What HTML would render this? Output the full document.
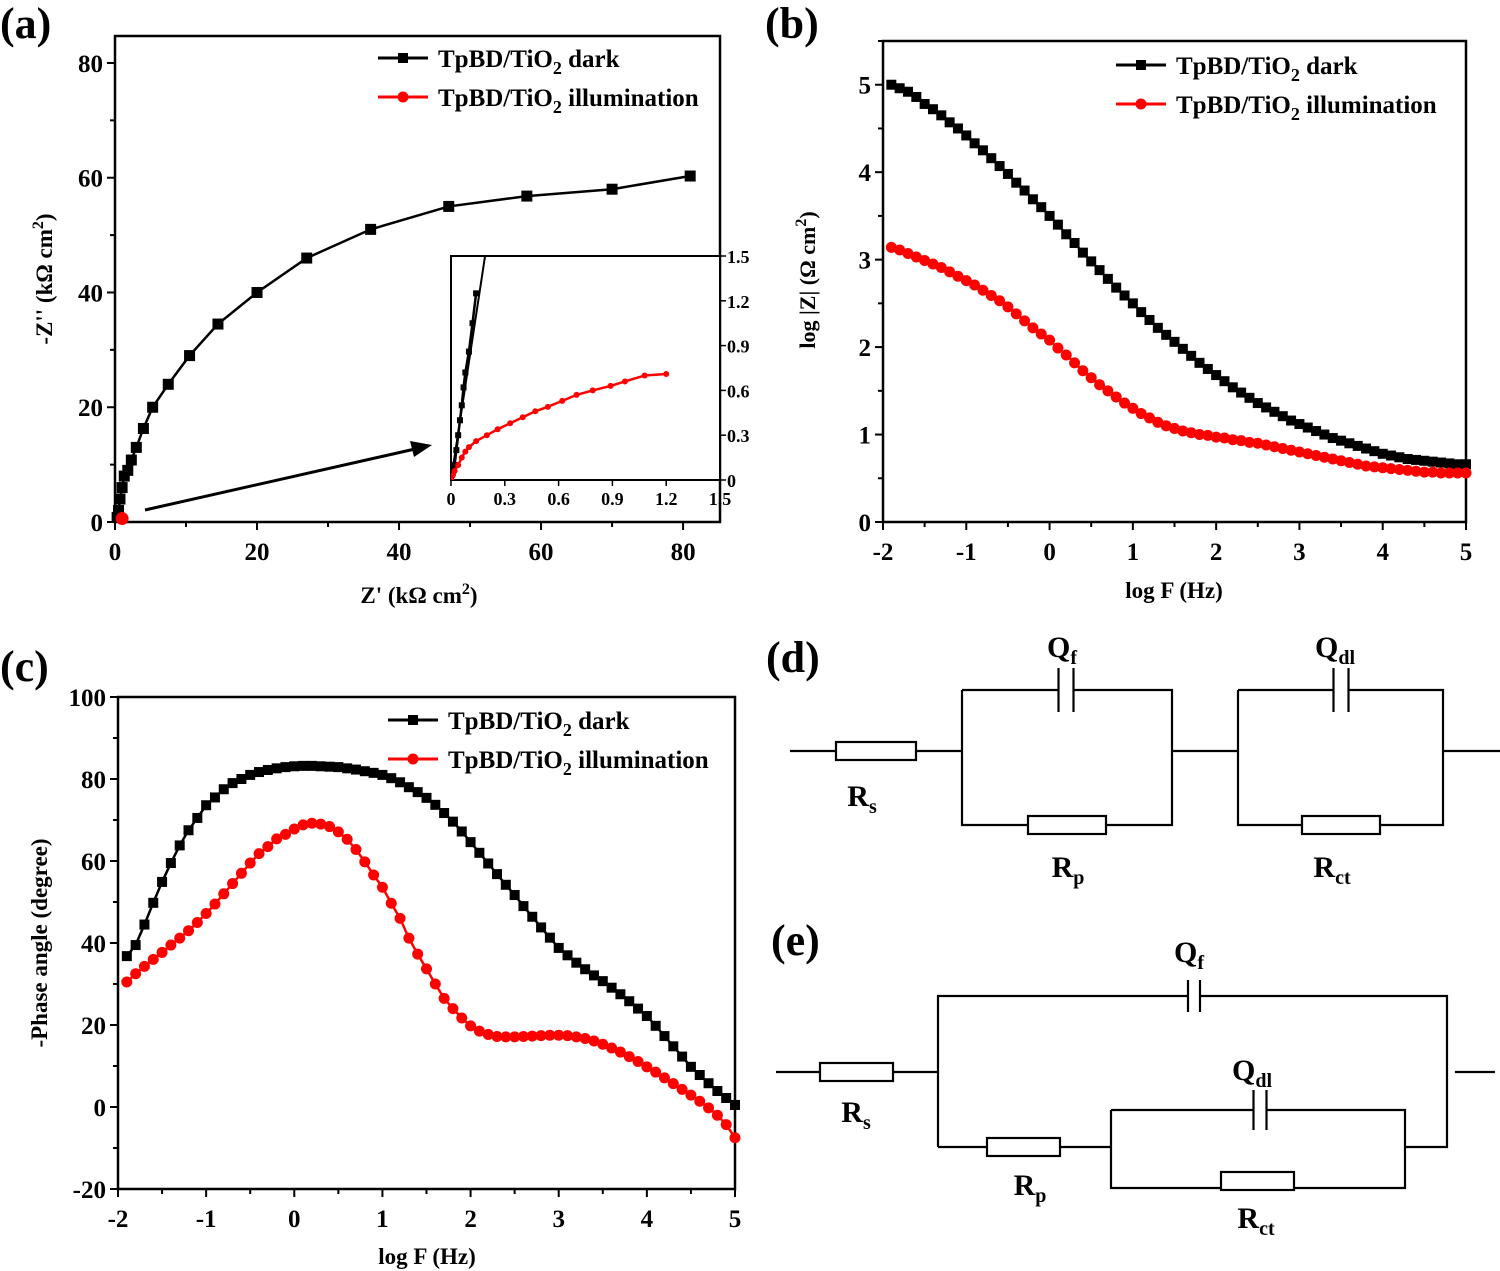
<!DOCTYPE html>
<html><head><meta charset="utf-8"><style>
html,body{margin:0;padding:0;background:#fff}
svg{display:block}
text{font-family:"Liberation Serif",serif;font-weight:bold;fill:#000}
</style></head><body>
<svg id="fig" width="1500" height="1271" viewBox="0 0 1500 1271" xmlns="http://www.w3.org/2000/svg"></svg>
<script>
// ---- panel (a) Nyquist ----
const aDarkX=[0.3,0.5,0.7,1,1.3,1.8,2.3,3,4,5.3,7.5,10.5,14.5,20,27,36,47,58,70,81];
const aDarkY=[0.8,2,4,6,8,9,10.8,13,16.3,20,24,29,34.5,40,46,51,55,56.8,58,60.3];
const aRedX=[1.0];
const aRedY=[0.6];
const aTicks=[0,20,40,60,80];
const insDarkX=[0.01,0.02,0.03,0.04,0.05,0.06,0.07,0.08,0.1,0.12,0.14];
const insDarkY=[0.05,0.1,0.2,0.3,0.4,0.5,0.62,0.72,0.86,1.05,1.25];
const insRedX=[0.01,0.02,0.04,0.06,0.08,0.1,0.14,0.2,0.26,0.33,0.4,0.47,0.54,0.62,0.7,0.79,0.89,0.97,1.08,1.2];
const insRedY=[0.03,0.06,0.1,0.15,0.19,0.22,0.26,0.3,0.34,0.38,0.42,0.46,0.49,0.53,0.57,0.6,0.63,0.66,0.7,0.71];
const insTicks=[0,0.3,0.6,0.9,1.2,1.5];
// ---- panel (b) Bode |Z| ----
const freqX=[-1.9,-1.8,-1.7,-1.6,-1.5,-1.4,-1.3,-1.2,-1.1,-1.0,-0.9,-0.8,-0.7,-0.6,-0.5,-0.4,-0.3,-0.2,-0.1,0,0.1,0.2,0.3,0.4,0.5,0.6,0.7,0.8,0.9,1.0,1.1,1.2,1.3,1.4,1.5,1.6,1.7,1.8,1.9,2.0,2.1,2.2,2.3,2.4,2.5,2.6,2.7,2.8,2.9,3.0,3.1,3.2,3.3,3.4,3.5,3.6,3.7,3.8,3.9,4.0,4.1,4.2,4.3,4.4,4.5,4.6,4.7,4.8,4.9,5.0];
const bDark=[5.00,4.96,4.92,4.86,4.78,4.72,4.65,4.57,4.50,4.42,4.33,4.25,4.16,4.07,3.98,3.88,3.79,3.69,3.60,3.50,3.40,3.29,3.19,3.08,2.98,2.88,2.78,2.68,2.59,2.50,2.40,2.31,2.22,2.14,2.06,1.98,1.90,1.82,1.75,1.68,1.61,1.54,1.48,1.42,1.36,1.31,1.26,1.21,1.16,1.12,1.08,1.04,1.00,0.96,0.93,0.90,0.87,0.84,0.81,0.78,0.76,0.74,0.72,0.71,0.70,0.69,0.68,0.67,0.66,0.66];
const bRed=[3.14,3.11,3.07,3.03,2.99,2.95,2.91,2.86,2.81,2.76,2.71,2.65,2.59,2.53,2.46,2.38,2.30,2.22,2.15,2.08,1.99,1.91,1.82,1.73,1.65,1.57,1.50,1.43,1.36,1.30,1.24,1.19,1.14,1.10,1.07,1.04,1.02,1.00,0.99,0.97,0.96,0.94,0.93,0.91,0.90,0.88,0.86,0.84,0.82,0.80,0.78,0.76,0.74,0.72,0.70,0.68,0.66,0.64,0.63,0.62,0.61,0.60,0.59,0.58,0.57,0.57,0.56,0.56,0.56,0.56];
const freqTicks=[-2,-1,0,1,2,3,4,5];
const bYTicks=[0,1,2,3,4,5];
// ---- panel (c) phase ----
const cDark=[36.8,39.5,44.5,49.8,54.9,59.5,63.8,67.5,70.5,73.6,75.5,77.5,79,80,81,81.7,82.2,82.6,82.9,83.1,83.2,83.2,83.1,83.0,82.9,82.6,82.3,81.9,81.5,81,80.2,79.2,78,76.8,75.4,73.7,71.7,69.6,67.2,64.6,62,59.4,56.8,54.2,51.7,49,46.4,43.8,41.3,38.8,37,35.2,33.6,32.1,30.7,29.1,27.5,25.8,24,22.2,19.8,17.3,14.8,12.3,9.8,7.8,5.8,3.9,2.2,0.5];
const cRed=[30.5,32.5,34.3,36,37.7,39.5,41.2,43,45,47.2,49.5,52,54.5,57,59.5,61.8,63.5,65.4,66.5,67.8,68.8,69.2,69,68.4,67.1,65.3,62.8,59.8,56.6,53.6,49.7,46,41.2,37.3,33.7,30,26.5,24,21.7,19.8,18.5,17.7,17.2,17.1,17.1,17.2,17.3,17.4,17.5,17.5,17.4,17.1,16.7,16.1,15.3,14.4,13.4,12.3,11.1,9.8,8.5,7.1,5.7,4.3,2.9,1.4,-0.2,-2,-4.3,-7.5];
const cYTicks=[-20,0,20,40,60,80,100];

const NS="http://www.w3.org/2000/svg";
const svg=document.getElementById('fig');
function mk(tag,attrs,parent){const e=document.createElementNS(NS,tag);for(const k in attrs)e.setAttribute(k,attrs[k]);(parent||svg).appendChild(e);return e;}
function txt(x,y,s,size,anchor,parent){const t=mk('text',{x:x,y:y,'font-size':size,'text-anchor':anchor||'middle'},parent);t.textContent=s;return t;}
function lin(d0,d1,r0,r1){return v=>r0+(v-d0)/(d1-d0)*(r1-r0);}

function axes(g,L,R,T,B,sx,sy,xt,yt,xminor,yminor,xfmt,yfmt){
  const box=mk('rect',{x:L,y:T,width:R-L,height:B-T,fill:'none',stroke:'#000','stroke-width':2.5},g);
  
  
  xt.forEach(v=>{const x=sx(v);mk('line',{x1:x,y1:B,x2:x,y2:B+8,stroke:'#000','stroke-width':2},g);
    const t=txt(x,B+38,xfmt(v),25,'middle',g);
    
    });
  xminor.forEach(v=>{const x=sx(v);mk('line',{x1:x,y1:B,x2:x,y2:B+5,stroke:'#000','stroke-width':2},g);});
  yt.forEach(v=>{const y=sy(v);mk('line',{x1:L-8,y1:y,x2:L,y2:y,stroke:'#000','stroke-width':2},g);
    const t=txt(L-12,y+9,yfmt(v),25,'end',g);
    
    });
  yminor.forEach(v=>{const y=sy(v);mk('line',{x1:L-5,y1:y,x2:L,y2:y,stroke:'#000','stroke-width':2},g);});
}
function series(g,xs,ys,sx,sy,color,shape,size,name){
  const sg=mk('g',{},g);
  
  
  mk('polyline',{points:xs.map((x,i)=>sx(x)+','+sy(ys[i])).join(' '),fill:'none',stroke:color,'stroke-width':2.5},sg);
  xs.forEach((x,i)=>{const px=sx(x),py=sy(ys[i]);let m;
    if(shape==='sq')m=mk('rect',{x:px-size/2,y:py-size/2,width:size,height:size,fill:color},sg);
    else m=mk('circle',{cx:px,cy:py,r:size/2,fill:color},sg);
    
    });
}
function legend(g,x,y1,y2){
  const l1=mk('g',{},g);
  
  
  mk('line',{x1:x,y1:y1,x2:x+50,y2:y1,stroke:'#000','stroke-width':3},l1);
  mk('rect',{x:x+20,y:y1-5,width:10,height:10,fill:'#000'},l1);
  const t1=mk('text',{x:x+60,y:y1+9,'font-size':25},l1);
  t1.innerHTML='TpBD/TiO<tspan font-size="18" dy="7">2</tspan><tspan dy="-7"> dark</tspan>';
  const l2=mk('g',{},g);
  
  
  mk('line',{x1:x,y1:y2,x2:x+50,y2:y2,stroke:'#f00','stroke-width':3},l2);
  mk('circle',{cx:x+25,cy:y2,r:5.5,fill:'#f00'},l2);
  const t2=mk('text',{x:x+60,y:y2+9,'font-size':25},l2);
  t2.innerHTML='TpBD/TiO<tspan font-size="18" dy="7">2</tspan><tspan dy="-7"> illumination</tspan>';
}
function panelLabel(x,y,s){const t=txt(x,y,s,44,'start');}
const rng=(a,b,s)=>{const r=[];for(let v=a;v<=b+1e-9;v+=s)r.push(+v.toFixed(3));return r;};

// ===== Panel A =====
const ga=mk('g',{});


const axL=115,axR=720,axT=36,axB=522;
const ax=lin(0,85.2,axL,axR), ay=lin(0,84.7,axB,axT);
axes(ga,axL,axR,axT,axB,ax,ay,aTicks,aTicks,rng(10,70,20),rng(10,70,20),v=>v,v=>v);
series(ga,aDarkX,aDarkY,ax,ay,'#000','sq',11,'a-dark-series');
series(ga,aRedX,aRedY,ax,ay,'#f00','ci',13,'a-illumination-series');
legend(ga,378,58,97);
const ayt=txt(0,0,'',23,'middle',ga);
ayt.setAttribute('transform','translate(52,279) rotate(-90)');
ayt.innerHTML='-Z\'\' (kΩ cm<tspan font-size="16" dy="-9">2</tspan><tspan dy="9">)</tspan>';


const axt=txt(419,603,'',23,'middle',ga);
axt.innerHTML='Z\' (kΩ cm<tspan font-size="16" dy="-9">2</tspan><tspan dy="9">)</tspan>';


// arrow
const arr=mk('g',{},ga);


mk('line',{x1:145,y1:510,x2:415,y2:449,stroke:'#000','stroke-width':3},arr);
mk('polygon',{points:'432,445 410,441 414,457',fill:'#000'},arr);
// inset
const gi=mk('g',{},ga);


const iL=451,iR=720,iT=256,iB=480;
const ix=lin(0,1.5,iL,iR), iy=lin(0,1.5,iB,iT);
mk('rect',{x:iL,y:iT,width:iR-iL,height:iB-iT,fill:'#fff',stroke:'#000','stroke-width':2},gi);
insTicks.forEach(v=>{const x=ix(v);mk('line',{x1:x,y1:iB,x2:x,y2:iB+6,stroke:'#000','stroke-width':1.5},gi);
  const t=txt(x,iB+25,String(v),18,'middle',gi);
  
  
  const y=iy(v);mk('line',{x1:iR,y1:y,x2:iR+6,y2:y,stroke:'#000','stroke-width':1.5},gi);
  const t2=txt(iR+7,y+7,String(v),18,'start',gi);
  
  });
const clipI=mk('clipPath',{id:'clipI'},gi);mk('rect',{x:iL,y:iT,width:iR-iL,height:iB-iT},clipI);
const gic=mk('g',{'clip-path':'url(#clipI)'},gi);
mk('line',{x1:ix(0),y1:iy(0),x2:ix(0.19),y2:iy(1.5),stroke:'#000','stroke-width':2},gic);
series(gic,[0].concat(insDarkX),[0].concat(insDarkY),ix,iy,'#000','sq',6,'inset-dark-series');
series(gic,[0].concat(insRedX),[0].concat(insRedY),ix,iy,'#f00','ci',6,'inset-illumination-series');
panelLabel(0,38,'(a)');

// ===== Panel B =====
const gb=mk('g',{});


const bL=883,bR=1466,bT=41,bB=522;
const bx=lin(-2,5,bL,bR), by=lin(0,5.5,bB,bT);
axes(gb,bL,bR,bT,bB,bx,by,freqTicks,bYTicks,rng(-1.5,4.5,1),rng(0.5,5.5,1),v=>v,v=>v);
series(gb,freqX,bDark,bx,by,'#000','sq',10,'b-dark-series');
series(gb,freqX,bRed,bx,by,'#f00','ci',11,'b-illumination-series');
legend(gb,1116,65,104);
const byt=txt(0,0,'',22,'middle',gb);
byt.setAttribute('transform','translate(815,280) rotate(-90)');
byt.innerHTML='log |Z| (Ω cm<tspan font-size="16" dy="-9">2</tspan><tspan dy="9">)</tspan>';


const bxt=txt(1174,598,'log F (Hz)',23,'middle',gb);


panelLabel(765,38,'(b)');

// ===== Panel C =====
const gc=mk('g',{});


const cL=118,cR=735,cT=697,cB=1189;
const cx=lin(-2,5,cL,cR), cy=lin(-20,100,cB,cT);
axes(gc,cL,cR,cT,cB,cx,cy,freqTicks,cYTicks,rng(-1.5,4.5,1),rng(-10,90,20),v=>v,v=>v);
const clipC=mk('clipPath',{id:'clipC'},gc);mk('rect',{x:cL,y:cT,width:cR-cL+6,height:cB-cT},clipC);
const gcc=mk('g',{'clip-path':'url(#clipC)'},gc);
series(gcc,freqX,cDark,cx,cy,'#000','sq',10,'c-dark-series');
series(gcc,freqX,cRed,cx,cy,'#f00','ci',11,'c-illumination-series');
legend(gc,388,720,759);
const cyt=txt(0,0,'-Phase angle (degree)',23,'middle',gc);
cyt.setAttribute('transform','translate(47,943) rotate(-90)');


const cxt=txt(427,1264,'log F (Hz)',23,'middle',gc);


panelLabel(0,681,'(c)');

// ===== Circuits =====
function wire(g,pts){mk('polyline',{points:pts,fill:'none',stroke:'#000','stroke-width':2.2},g);}
function res(g,x1,x2,y,label){const r=mk('rect',{x:x1,y:y-9,width:x2-x1,height:18,fill:'#fff',stroke:'#000','stroke-width':2.2},g);
  
  }
function cap(g,xm,y,gap,h,label){const c=mk('g',{},g);
  
  
  mk('rect',{x:xm-gap/2,y:y-3,width:gap,height:6,fill:'#fff'},c);
  mk('line',{x1:xm-gap/2,y1:y-h/2,x2:xm-gap/2,y2:y+h/2,stroke:'#000','stroke-width':2.2},c);
  mk('line',{x1:xm+gap/2,y1:y-h/2,x2:xm+gap/2,y2:y+h/2,stroke:'#000','stroke-width':2.2},c);}
function lab(g,x,y,main,sub,name){const t=mk('text',{x:x,y:y,'font-size':30,'text-anchor':'middle'},g);
  t.innerHTML=main+'<tspan font-size="20" dy="7">'+sub+'</tspan>';
  
  }
const gd=mk('g',{});


wire(gd,'790,751 962,751');
wire(gd,'962,690 1172,690 1172,825 962,825 962,690');
wire(gd,'1172,751 1238,751');
wire(gd,'1238,690 1443,690 1443,825 1238,825 1238,690');
wire(gd,'1443,751 1500,751');
res(gd,836,916,751,'rs');
res(gd,1028,1106,825,'rp');
res(gd,1302,1380,825,'rct');
cap(gd,1066,690,15,44,'qf');
cap(gd,1341,690,15,44,'qdl');
lab(gd,1062,657,'Q','f','label-qf');
lab(gd,1335,657,'Q','dl','label-qdl');
lab(gd,862,806,'R','s','label-rs');
lab(gd,1068,877,'R','p','label-rp');
lab(gd,1332,877,'R','ct','label-rct');
panelLabel(766,672,'(d)');

const ge=mk('g',{});


wire(ge,'776,1072 938,1072');
wire(ge,'938,1147 938,996 1447,996 1447,1147 1405,1147');
wire(ge,'938,1147 1111,1147');
wire(ge,'1111,1110 1405,1110 1405,1188 1111,1188 1111,1110');
wire(ge,'1455,1072 1495,1072');
res(ge,820,893,1072,'rs');
res(ge,987,1060,1147,'rp');
res(ge,1221,1294,1181,'rct');
cap(ge,1194,996,12,32,'qf');
cap(ge,1260,1110,13,40,'qdl');
lab(ge,1189,962,'Q','f','label-qf');
lab(ge,1252,1080,'Q','dl','label-qdl');
lab(ge,856,1122,'R','s','label-rs');
lab(ge,1030,1195,'R','p','label-rp');
lab(ge,1256,1228,'R','ct','label-rct');
panelLabel(771,955,'(e)');
</script>
</body></html>
